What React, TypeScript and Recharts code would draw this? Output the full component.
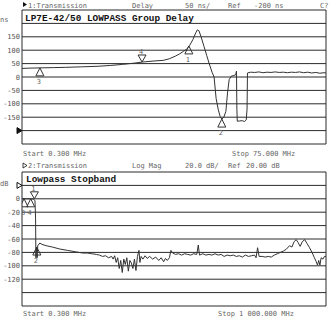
import { CartesianGrid, ComposedChart, Line, Scatter, XAxis, YAxis } from "recharts"

// channel 1: group delay, 0.3 - 75 MHz
const topFreqMHz = [
  0.3, 2, 4.7, 8, 11, 15, 19, 22, 25, 28, 30, 33, 35, 36.5, 38, 39, 40, 40.8, 41.5, 42.3,
  43, 43.4, 43.8, 44.3, 45, 45.7, 46.3, 47, 47.5, 48, 48.5, 49, 49.4, 49.9, 50.4, 50.8, 51.2, 51.7, 52.2, 52.8,
  53, 53.1, 53.2, 53.8, 54.4, 55, 55.4, 55.6, 55.7, 56.5, 57.5, 58.5, 59.5, 60.5, 61.5, 62.5, 63.5, 64.5, 65.5, 66.5,
  67.5, 68.5, 69.5, 70.5, 71.5, 72.5, 73.5, 74.5, 75,
]
const topDelayNs = [
  32, 33, 34, 35, 36, 38, 40, 43, 47, 52, 56, 60, 62, 68, 78, 86, 96, 104, 118, 140,
  165, 176, 172, 150, 115, 80, 50, 18, 0, -80, -120, -148, -157, -150, -128, -60, -10, 3, 5, 8,
  22, -120, -165, -164, -163, -166, -160, -120, 15, 18, 17, 19, 16, 18, 17, 19, 17, 18, 16, 18,
  17, 19, 16, 18, 15, 17, 14, 16, 15,
]
const topXTicks = [0.3, 7.77, 15.24, 22.71, 30.18, 37.65, 45.12, 52.59, 60.06, 67.53, 75]
const topYTicks = [-250, -200, -150, -100, -50, 0, 50, 100, 150, 200, 250]
const topYLabels = [-150, -100, -50, 0, 50, 100, 150]
const topRefNs = -200
const topMarkers = [
  { f: 4.7, v: 34, name: "3", dir: "up" },
  { f: 29.8, v: 56, name: "4", dir: "down" },
  { f: 41.3, v: 116, name: "1", dir: "up" },
  { f: 49.4, v: -157, name: "2", dir: "up" },
  { f: 75, v: 15, name: "1", dir: "end" },
]

// channel 2: stopband log mag, 0.3 - 1000 MHz
const botFreqMHz = [
  0.3, 20, 38, 43, 45, 46, 48, 50, 52, 59, 66, 80, 100, 125, 150, 175, 200, 215, 230, 245,
  255, 265, 275, 285, 295, 300, 305, 310, 315, 320, 325, 330, 335, 340, 345, 350, 355, 360, 365, 370,
  375, 380, 385, 388, 392, 398, 405, 412, 420, 430, 440, 450, 458, 466, 472, 478, 485, 490, 496, 505,
  515, 525, 535, 545, 555, 565, 575, 580, 584, 595, 605, 615, 625, 635, 645, 655, 665, 675, 685, 695,
  705, 715, 725, 735, 745, 755, 765, 770, 775, 780, 790, 800, 810, 820, 830, 840, 850, 860, 870, 880,
  888, 895, 902, 908, 915, 922, 930, 938, 946, 954, 962, 968, 972, 976, 980, 984, 990, 995, 1000,
]
const botGainDb = [
  0, 0, -0.3, -3, -30, -88, -72, -88, -70, -66, -68, -70, -72, -75, -77, -79, -81, -81, -82, -83,
  -84, -86, -85, -88, -86, -90, -85, -95, -88, -104, -92, -110, -90, -98, -88, -108, -92, -96, -104, -90,
  -107, -86, -77, -95, -86, -90, -85, -89, -86, -90, -87, -92, -88, -94, -89, -92, -88, -77, -81, -83,
  -82, -84, -82, -83, -84, -82, -83, -69, -84, -82, -84, -83, -84, -82, -84, -83, -86, -84, -85, -84,
  -86, -85, -87, -84, -86, -85, -84, -88, -73, -86, -86, -87, -86, -87, -84, -82, -80, -78, -75, -70,
  -72, -64, -61, -65, -71, -64, -61, -67, -73, -80, -88, -94, -99, -92, -99, -88, -90, -86, -86,
]
const botXTicks = [0.3, 100.27, 200.24, 300.21, 400.18, 500.15, 600.12, 700.09, 800.06, 900.03, 1000]
const botYTicks = [-160, -140, -120, -100, -80, -60, -40, -20, 0, 20, 40]
const botYLabels = [-120, -100, -80, -60, -40, -20, 0]
const botRefDb = 20
const botMarkers = [
  { f: 7, v: 0, name: "3", dir: "up" },
  { f: 29, v: 0, name: "4", dir: "up" },
  { f: 41, v: 0, name: "1", dir: "down" },
  { f: 49, v: -72, name: "2", dir: "up" },
  { f: 1000, v: -86, name: "2", dir: "end" },
]

const topData = topFreqMHz.map((f, i) => ({ f, v: topDelayNs[i] }))
const botData = botFreqMHz.map((f, i) => ({ f, v: botGainDb[i] }))

const mono = "DejaVu Sans Mono"
const small = { fontFamily: mono, fontSize: 7, fill: "#666" }
const title = { fontFamily: "Liberation Mono", fontSize: 9.4, fontWeight: 700, fill: "#111" }

function MarkerShape(props: any) {
  const { cx, cy, payload } = props
  if (payload.dir === "end") {
    return <text x={cx + 1} y={cy + 3} {...small}>{payload.name}</text>
  }
  const up = payload.dir === "up"
  const base = up ? cy + 8 : cy - 7
  return (
    <g>
      <polygon points={`${cx},${cy} ${cx - 4},${base} ${cx + 4},${base}`} fill="none" stroke="#333" strokeWidth={1} />
      <text x={cx - 1} y={up ? base + 8 : base - 1} textAnchor="middle" {...small}>{payload.name}</text>
    </g>
  )
}

function makeTick(labels: number[], ref: number, filled: boolean) {
  return (props: any) => {
    const { x, y, payload } = props
    const v = payload.value
    if (v === ref) {
      return (
        <polygon
          points={`${x - 3},${y - 3} ${x + 2},${y} ${x - 3},${y + 3}`}
          fill={filled ? "#111" : "#fff"}
          stroke="#111"
          strokeWidth={1}
        />
      )
    }
    if (!labels.includes(v)) return <g />
    return <text x={x} y={y + 2.5} textAnchor="end" {...small} fill="#555">{v}</text>
  }
}

function Panel(props: any) {
  const { data, markers, xTicks, yTicks, yLabels, refValue, filled, margin } = props
  return (
    <ComposedChart width={330} height={160} margin={margin}>
      <CartesianGrid stroke="#2a2a2a" strokeWidth={1} />
      <XAxis
        type="number"
        dataKey="f"
        domain={[xTicks[0], xTicks[xTicks.length - 1]]}
        ticks={xTicks}
        allowDataOverflow
        height={0}
        tick={false}
        axisLine={false}
        tickLine={false}
      />
      <YAxis
        type="number"
        domain={[yTicks[0], yTicks[yTicks.length - 1]]}
        ticks={yTicks}
        allowDataOverflow
        interval={0}
        width={22}
        tickSize={0}
        tickMargin={2}
        axisLine={false}
        tickLine={false}
        tick={makeTick(yLabels, refValue, filled)}
      />
      <Line data={data} dataKey="v" type="linear" stroke="#333" strokeWidth={1} dot={false} isAnimationActive={false} />
      <Scatter data={markers} dataKey="v" shape={MarkerShape} isAnimationActive={false} />
    </ComposedChart>
  )
}

export default function App() {
  return (
    <div style={{ position: "absolute", left: 0, top: 0, width: 330, height: 320, background: "#fff" }}>
      <div style={{ position: "absolute", left: 0, top: 0 }}>
        <Panel
          data={topData}
          markers={topMarkers}
          xTicks={topXTicks}
          yTicks={topYTicks}
          yLabels={topYLabels}
          refValue={topRefNs}
          filled={true}
          margin={{ top: 10, right: 4, bottom: 16, left: 0 }}
        />
      </div>
      <div style={{ position: "absolute", left: 0, top: 160 }}>
        <Panel
          data={botData}
          markers={botMarkers}
          xTicks={botXTicks}
          yTicks={botYTicks}
          yLabels={botYLabels}
          refValue={botRefDb}
          filled={false}
          margin={{ top: 12, right: 4, bottom: 14, left: 0 }}
        />
      </div>
      <svg width={330} height={320} style={{ position: "absolute", left: 0, top: 0, pointerEvents: "none" }}>
        <polygon points="23,2 27,4.5 23,7" fill="#111" />
        <text x={28} y={8} {...small}>1:Transmission</text>
        <text x={132} y={8} {...small}>Delay</text>
        <text x={185} y={8} {...small}>50 ns/</text>
        <text x={228} y={8} {...small}>Ref</text>
        <text x={254} y={8} {...small}>-200 ns</text>
        <text x={320} y={8} {...small}>C?</text>
        <text x={0} y={22} {...small}>ns</text>
        <text x={25} y={20.5} {...title}>LP7E-42/50 LOWPASS Group Delay</text>
        <text x={23} y={156} {...small}>Start 0.300 MHz</text>
        <text x={232} y={156} {...small}>Stop 75.000 MHz</text>

        <polygon points="23,163 27,165.5 23,168" fill="#fff" stroke="#111" strokeWidth={0.8} />
        <text x={28} y={168} {...small}>2:Transmission</text>
        <text x={132} y={168} {...small}>Log Mag</text>
        <text x={185} y={168} {...small}>20.0 dB/</text>
        <text x={228} y={168} {...small}>Ref</text>
        <text x={246} y={168} {...small}>20.00 dB</text>
        <text x={0} y={186} {...small}>dB</text>
        <text x={26} y={181.5} {...title}>Lowpass Stopband</text>
        <text x={23} y={316} {...small}>Start 0.300 MHz</text>
        <text x={218} y={316} {...small}>Stop 1 000.000 MHz</text>
      </svg>
    </div>
  )
}
